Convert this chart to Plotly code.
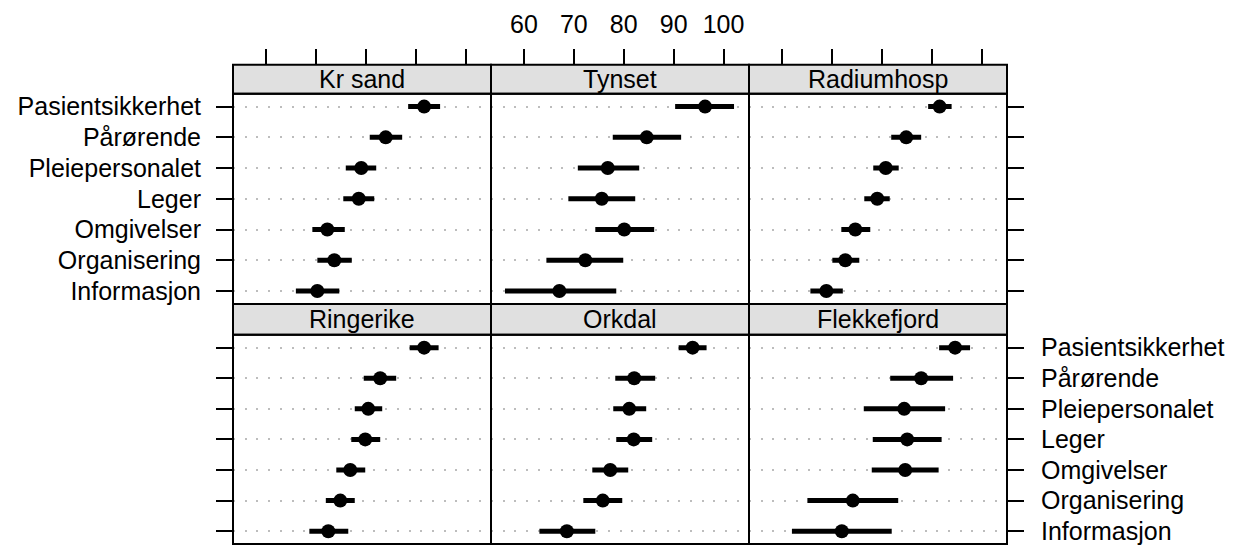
import plotly.graph_objects as go

# page body has an 8px margin, so figure is drawn 8px in from the window corner
OFF = 8
W, H = 1242 - OFF, 552 - OFF

# ---------------- data ----------------
categories = ["Pasientsikkerhet", "Pårørende", "Pleiepersonalet", "Leger",
              "Omgivelser", "Organisering", "Informasjon"]  # top to bottom

panels = ["Kr sand", "Tynset", "Radiumhosp", "Ringerike", "Orkdal", "Flekkefjord"]

krsand_est = [91.7, 84.0, 79.1, 78.6, 72.3, 73.7, 70.3]
krsand_lo = [88.5, 80.8, 76.0, 75.5, 69.3, 70.3, 66.0]
krsand_hi = [94.9, 87.3, 82.1, 81.7, 75.8, 77.2, 74.7]

tynset_est = [96.3, 84.6, 76.8, 75.6, 80.1, 72.3, 67.1]
tynset_lo = [90.3, 77.8, 70.8, 68.9, 74.3, 64.5, 56.2]
tynset_hi = [102.1, 91.5, 83.1, 82.3, 86.1, 79.9, 78.5]

radium_est = [91.6, 84.9, 80.8, 79.1, 74.7, 72.7, 68.9]
radium_lo = [89.3, 81.9, 78.3, 76.5, 71.9, 70.1, 65.7]
radium_hi = [94.0, 87.9, 83.4, 81.6, 77.7, 75.5, 72.2]

ringerike_est = [91.7, 82.9, 80.5, 79.9, 76.9, 74.9, 72.5]
ringerike_lo = [88.8, 79.6, 77.8, 77.1, 74.1, 72.0, 68.7]
ringerike_hi = [94.6, 86.1, 83.3, 82.9, 79.9, 77.8, 76.5]

orkdal_est = [93.8, 82.1, 81.1, 82.0, 77.3, 75.8, 68.6]
orkdal_lo = [91.0, 78.3, 77.9, 78.5, 73.7, 71.9, 63.1]
orkdal_hi = [96.6, 86.3, 84.5, 85.7, 80.9, 79.7, 74.3]

flekke_est = [94.7, 87.9, 84.5, 85.1, 84.7, 74.2, 72.0]
flekke_lo = [91.5, 81.7, 76.4, 78.2, 78.0, 65.1, 62.0]
flekke_hi = [97.7, 94.3, 92.7, 92.0, 91.4, 83.3, 82.0]

x_ticks = [60, 70, 80, 90, 100]

series = [
    (krsand_est, krsand_lo, krsand_hi),
    (tynset_est, tynset_lo, tynset_hi),
    (radium_est, radium_lo, radium_hi),
    (ringerike_est, ringerike_lo, ringerike_hi),
    (orkdal_est, orkdal_lo, orkdal_hi),
    (flekke_est, flekke_lo, flekke_hi),
]

# ---------------- layout geometry (window pixels) ----------------
col_px = [(233, 491), (491, 749), (749, 1007)]
rows = [  # (strip_top, panel_top, panel_bottom)
    (64, 93, 304),
    (304, 335, 545),
]
XR = [53.4, 105.1]
YR = [0.58, 7.42]
FONT = "Liberation Sans, Arial, sans-serif"
FS = 25

def px2x(p):
    return (p - OFF) / W

def px2y(p):
    return 1 - (p - OFF) / H

n = len(categories)
ypos = [n - i for i in range(n)]  # top category highest

fig = go.Figure()
layout = {}
shapes = []
annotations = []

for k, name in enumerate(panels):
    r, c = divmod(k, 3)
    idx = k + 1
    xa = "x" if idx == 1 else f"x{idx}"
    ya = "y" if idx == 1 else f"y{idx}"
    est, lo, hi = series[k]
    fig.add_trace(go.Scatter(
        x=est, y=ypos, xaxis=xa, yaxis=ya, mode="markers",
        marker=dict(color="black", size=14),
        error_x=dict(type="data", symmetric=False,
                     array=[h - e for h, e in zip(hi, est)],
                     arrayminus=[e - l for e, l in zip(est, lo)],
                     thickness=5, width=0, color="black"),
        showlegend=False, hoverinfo="skip", cliponaxis=False,
    ))
    x0, x1 = col_px[c]
    st, pt, pb = rows[r]
    xdom = [px2x(x0), px2x(x1)]
    ydom = [px2y(pb), px2y(pt)]
    xkey = "xaxis" if idx == 1 else f"xaxis{idx}"
    ykey = "yaxis" if idx == 1 else f"yaxis{idx}"
    xax = dict(domain=xdom, range=XR, showgrid=False, zeroline=False,
               showline=False, tickvals=x_ticks,
               tickfont=dict(family=FONT, size=FS, color="black"))
    if r == 0:
        xax.update(anchor="free", position=px2y(st), side="top",
                   ticks="outside", ticklen=16, tickwidth=2, tickcolor="black",
                   showticklabels=(c == 1), ticklabelstandoff=6)
    else:
        xax.update(anchor=ya, ticks="", showticklabels=False)
    layout[xkey] = xax

    yax = dict(domain=ydom, range=YR, anchor=xa, zeroline=False, showline=False,
               tickvals=ypos, ticktext=categories,
               showgrid=True, gridcolor="#bdbdbd", gridwidth=2,
               griddash="2px,9.7px",
               tickfont=dict(family=FONT, size=FS, color="black"))
    if c == 0:
        yax.update(side="left", ticks="outside", ticklen=16, tickwidth=2,
                   tickcolor="black", showticklabels=(r == 0),
                   ticklabelstandoff=10)
    elif c == 2:
        yax.update(side="right", ticks="outside", ticklen=16, tickwidth=2,
                   tickcolor="black", showticklabels=(r == 1),
                   ticklabelstandoff=12)
    else:
        yax.update(ticks="", showticklabels=False)
    layout[ykey] = yax

    # strip
    shapes.append(dict(type="rect", xref="paper", yref="paper",
                       x0=px2x(x0), x1=px2x(x1), y0=px2y(pt), y1=px2y(st),
                       fillcolor="#e0e0e0", line=dict(color="black", width=2),
                       layer="below"))
    # panel border
    shapes.append(dict(type="rect", xref="paper", yref="paper",
                       x0=px2x(x0), x1=px2x(x1), y0=px2y(pb), y1=px2y(pt),
                       fillcolor="rgba(0,0,0,0)", line=dict(color="black", width=2),
                       layer="above"))
    annotations.append(dict(text=name, xref="paper", yref="paper",
                            x=px2x((x0 + x1) / 2), y=px2y((st + pt) / 2),
                            xanchor="center", yanchor="middle", showarrow=False,
                            font=dict(family=FONT, size=FS, color="black")))

fig.update_layout(
    width=W, height=H, margin=dict(l=0, r=0, t=0, b=0),
    paper_bgcolor="white", plot_bgcolor="white",
    shapes=shapes, annotations=annotations, **layout,
)

fig.write_html("out.html")
